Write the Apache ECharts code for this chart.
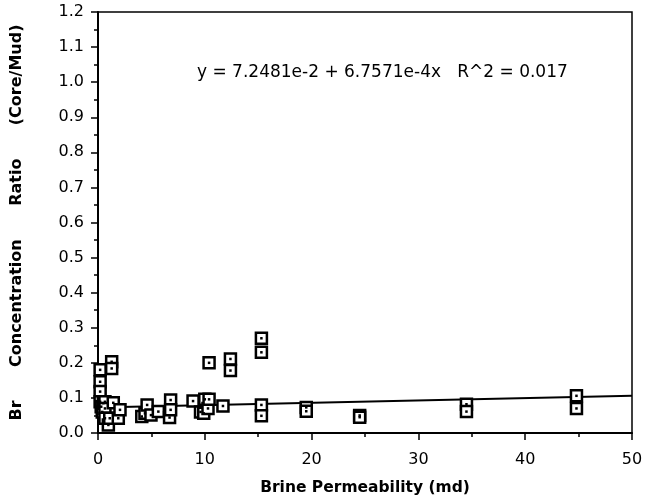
<!DOCTYPE html>
<html>
<head>
<meta charset="utf-8">
<script src="https://cdn.jsdelivr.net/npm/echarts@6/dist/echarts.min.js"></script>
<style>
    html, body { margin: 0; padding: 0; background: #fff; }
    #main { width: 652px; height: 498px; }
</style>
</head>
<body>
<div id="main"></div>
<script>
    // permeability (md) and Br ratio
    var permX = [0.2, 0.2, 0.2, 0.2, 0.3, 0.4, 0.5, 0.65, 0.65, 0.65, 0.97, 1.1, 1.28, 1.28, 1.43, 1.9, 2.06,
        4.1, 4.4, 4.6, 4.96, 5.65, 6.7, 6.8, 6.8, 8.9, 9.6, 9.9, 10.0, 10.3, 10.4, 10.4,
        11.7, 12.4, 12.4, 15.3, 15.3, 15.3, 15.3, 19.5, 19.5, 24.5, 24.5, 34.5, 34.5, 44.8, 44.8];
    var ratioY = [0.18, 0.146, 0.118, 0.089, 0.075, 0.06, 0.085, 0.089, 0.07, 0.042, 0.023, 0.042, 0.203, 0.184, 0.086, 0.042, 0.066,
        0.047, 0.056, 0.08, 0.051, 0.061, 0.044, 0.094, 0.066, 0.091, 0.06, 0.056, 0.096, 0.07, 0.096, 0.2,
        0.077, 0.211, 0.178, 0.27, 0.23, 0.08, 0.049, 0.073, 0.062, 0.05, 0.045, 0.082, 0.061, 0.106, 0.07];
    var fitA = 7.2481e-2;
    var fitB = 6.7571e-4;
    var fitX = [0, 50];
    var fitText = 'y = 7.2481e-2 + 6.7571e-4x   R^2 = 0.017';

    var pts = [];
    for (var i = 0; i < permX.length; i++) {
        pts.push([permX[i], ratioY[i]]);
    }
    var fitLine = [];
    for (var j = 0; j < fitX.length; j++) {
        fitLine.push([fitX[j], fitA + fitB * fitX[j]]);
    }

    var myChart = echarts.init(document.getElementById('main'));
    var font = '"DejaVu Sans", sans-serif';
    var option = {
        animation: false,
        grid: {
            left: 98, right: 20, top: 12, bottom: 65,
            outerBoundsMode: 'none', containLabel: false,
            show: true, borderColor: '#000', borderWidth: 1.5
        },
        graphic: [{
            type: 'text',
            left: 197, top: 64,
            style: { text: fitText, fontSize: 17, fontFamily: font, fill: '#000' }
        }],
        xAxis: {
            type: 'value', min: 0, max: 50, interval: 10,
            name: 'Brine Permeability (md)', nameLocation: 'middle', nameGap: 47,
            nameTextStyle: { fontSize: 15.5, fontWeight: 'bold', fontFamily: font, color: '#000' },
            axisLine: { lineStyle: { color: '#000', width: 2 } },
            axisTick: { length: 7, lineStyle: { color: '#000', width: 1.5 } },
            minorTick: { show: true, splitNumber: 2, length: 4, lineStyle: { color: '#000', width: 1.5 } },
            axisLabel: { fontSize: 16, fontFamily: font, color: '#000', margin: 19 },
            splitLine: { show: false }
        },
        yAxis: {
            type: 'value', min: 0, max: 1.2, interval: 0.1,
            name: 'Br      Concentration      Ratio      (Core/Mud)', nameLocation: 'middle', nameGap: 73,
            nameTextStyle: { fontSize: 16, fontWeight: 'bold', fontFamily: font, color: '#000' },
            axisLine: { lineStyle: { color: '#000', width: 2 } },
            axisTick: { length: 7, lineStyle: { color: '#000', width: 1.5 } },
            minorTick: { show: true, splitNumber: 2, length: 4, lineStyle: { color: '#000', width: 1.5 } },
            axisLabel: {
                fontSize: 16, fontFamily: font, color: '#000', margin: 14,
                formatter: function (v) { return v.toFixed(1); }
            },
            splitLine: { show: false }
        },
        series: [
            {
                type: 'line',
                data: fitLine,
                symbol: 'none',
                lineStyle: { color: '#000', width: 2 },
                z: 2
            },
            {
                type: 'scatter',
                data: pts,
                symbol: 'rect',
                symbolSize: 11,
                itemStyle: { color: '#fff', borderColor: '#000', borderWidth: 2.5, opacity: 1 },
                z: 3
            },
            {
                type: 'scatter',
                data: pts,
                symbol: 'rect',
                symbolSize: 2.5,
                itemStyle: { color: '#000', opacity: 1 },
                z: 4
            }
        ]
    };
    myChart.setOption(option, true);
</script>
</body>
</html>
